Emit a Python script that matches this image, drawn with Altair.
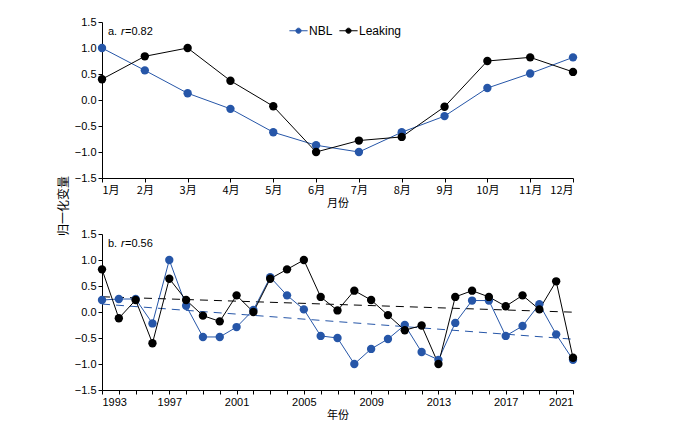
import pandas as pd
import altair as alt

months = list(range(1, 13))
nbl_month = [1.0, 0.57, 0.13, -0.17, -0.62, -0.87, -1.0, -0.62, -0.31, 0.23, 0.51, 0.82]
leak_month = [0.4, 0.84, 1.0, 0.37, -0.12, -1.0, -0.78, -0.71, -0.13, 0.75, 0.82, 0.54]

years = list(range(1993, 2022))
nbl_year = [0.23, 0.25, 0.25, -0.22, 1.0, 0.12, -0.48, -0.48, -0.29, 0.04, 0.67, 0.32, 0.05,
            -0.46, -0.5, -1.0, -0.71, -0.52, -0.25, -0.77, -0.92, -0.21, 0.22, 0.22, -0.46,
            -0.27, 0.15, -0.43, -0.92]
leak_year = [0.82, -0.12, 0.23, -0.6, 0.64, 0.23, -0.07, -0.18, 0.32, 0.0, 0.64, 0.82, 1.0,
             0.29, 0.03, 0.41, 0.23, -0.06, -0.35, -0.26, -1.0, 0.29, 0.41, 0.29, 0.11,
             0.32, 0.05, 0.59, -0.88]

FONT = "Liberation Sans"
CJK = "Noto Sans CJK SC"
series = ["NBL", "Leaking"]
colours = ["#2656a8", "#000000"]

colour = alt.Color("s:N", scale=alt.Scale(domain=series, range=colours), sort=series,
                   legend=alt.Legend(orient="none", legendX=190, legendY=2,
                                     direction="horizontal", title=None,
                                     labelFont=FONT, labelFontSize=12,
                                     symbolType="M-1.6,0H1.6M-0.45,0A0.45,0.45 0 1,0 0.45,0A0.45,0.45 0 1,0 -0.45,0",
                                     symbolSize=130, symbolStrokeWidth=1, columnPadding=4))


def long_table(xs, nbl, leak):
    return pd.DataFrame({"x": xs * 2, "v": nbl + leak,
                         "s": ["NBL"] * len(xs) + ["Leaking"] * len(xs)})


def text_layer(t, x, italic=False, angle=0, y=10, font=FONT, size=11):
    return alt.Chart(pd.DataFrame({"t": [t]})).mark_text(
        align="left" if angle == 0 else "center", baseline="middle", font=font,
        fontSize=size, fontStyle="italic" if italic else "normal", angle=angle
    ).encode(x=alt.value(x), y=alt.value(y), text="t:N")


def panel(df, x_axis, x_dom, letter, r, with_ytitle, trend=False):
    y = alt.Y("v:Q", scale=alt.Scale(domain=[-1.5, 1.5]),
              axis=alt.Axis(values=[-1.5, -1.0, -0.5, 0.0, 0.5, 1.0, 1.5], format=".1f",
                            grid=False, tickSize=4, title=None))
    x = alt.X("x:Q", scale=alt.Scale(domain=x_dom, nice=False, zero=False), axis=x_axis)
    base = alt.Chart(df).encode(x=x, y=y, color=colour)
    lines = base.mark_line(strokeWidth=1).encode(detail="s:N")
    pts = base.mark_point(filled=True, size=70, opacity=1)
    layers = [lines, pts, text_layer(letter, 6), text_layer("r", 19, italic=True),
              text_layer(r, 23)]
    if trend:
        reg = base.transform_regression("x", "v", groupby=["s"]).mark_line(
            strokeWidth=1, strokeDash=[8, 6])
        layers.insert(0, reg)
    if with_ytitle:
        layers.append(text_layer("归一化变量", -38, angle=270, y=184, font=CJK, size=12))
    return alt.layer(*layers).properties(width=471, height=156)


top_axis = alt.Axis(values=months, labelExpr="datum.value + '月'", grid=False, tickSize=4,
                    title="月份", titleFont=CJK, titleFontWeight="normal",
                    titleFontSize=11, labelFont=CJK, titlePadding=2)
bot_axis = alt.Axis(values=years, labelExpr="datum.value % 2 == 1 ? datum.value : ''",
                    grid=False, tickSize=4, format="d",
                    title="年份", titleFont=CJK, titleFontWeight="normal",
                    titleFontSize=11, titlePadding=2)

top = panel(long_table(months, nbl_month, leak_month), top_axis, [1, 12], "a.", "=0.82", True)
bottom = panel(long_table(years, nbl_year, leak_year), bot_axis, [1993, 2021], "b.", "=0.56",
               False, trend=True)

chart = alt.vconcat(top, bottom, spacing=56, bounds="flush").resolve_scale(
    color="shared"
).configure_view(stroke=None).configure_axis(
    labelFont=FONT, labelFontSize=11, labelColor="#000", domainColor="#000", tickColor="#000",
    titleColor="#000"
).properties(padding={"left": 50, "top": 8, "right": 10, "bottom": 0})

chart.save("out.html", embed_options={"renderer": "svg", "actions": False})
